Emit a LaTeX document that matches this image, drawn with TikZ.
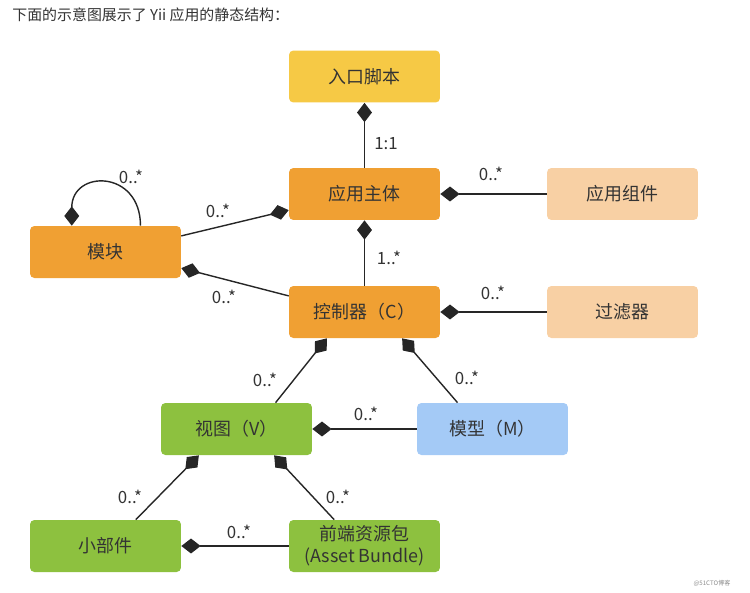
\documentclass[tikz,border=0pt]{standalone}
\usepackage{fontspec}
\setmainfont{Noto Sans CJK SC}
\usepackage{tikz}
\usetikzlibrary{arrows.meta}
\usepackage{xcolor}

\definecolor{entryyellow}{HTML}{F6C945}
\definecolor{apporange}{HTML}{F0A033}
\definecolor{partpeach}{HTML}{F8D0A4}
\definecolor{viewgreen}{HTML}{8DC13F}
\definecolor{modelblue}{HTML}{A4CAF6}
\definecolor{inktext}{HTML}{333333}

\tikzset{
  box/.style={rounded corners=2.5pt, minimum width=3.02cm, minimum height=1.04cm,
    text=inktext, font=\fontsize{10.2}{12.5}\selectfont, align=center, inner sep=0pt},
  lbl/.style={text=inktext, font=\fontsize{9.6}{11}\selectfont, inner sep=0pt},
  owns/.style={thick, draw=black!85, {Diamond[length=11pt,width=8.5pt]}-},
  ownedby/.style={thick, draw=black!85, -{Diamond[length=11pt,width=8.5pt]}}
}

\begin{document}
\begin{tikzpicture}[x=0.02cm, y=-0.02cm]
      % page frame, in pixels of the reference
      \useasboundingbox (0,0) rectangle (750,592);

      % caption line
      \node[anchor=west, text=inktext, font=\fontsize{8.5}{10}\selectfont, inner sep=0pt] (caption) at (12,15)
        {下面的示意图展示了 Yii 应用的静态结构：};

      % the boxes
      \node[box, fill=entryyellow] (entry) at (364.5,76.5) {入口脚本};
      \node[box, fill=apporange] (app) at (364.5,194) {应用主体};
      \node[box, fill=partpeach] (comp) at (622.5,194) {应用组件};
      \node[box, fill=apporange] (module) at (105.5,252) {模块};
      \node[box, fill=apporange] (ctrl) at (364.5,312) {控制器（C）};
      \node[box, fill=partpeach] (filter) at (622.5,312) {过滤器};
      \node[box, fill=viewgreen] (view) at (236.5,429) {视图（V）};
      \node[box, fill=modelblue] (model) at (492.5,429) {模型（M）};
      \node[box, fill=viewgreen] (widget) at (105.5,546) {小部件};
      \node[box, fill=viewgreen] (asset) at (364.5,546) {前端资源包\\(Asset Bundle)};

      % composition links, diamond on the owner side
      \draw[owns] (entry) -- (app);
      \draw[owns] (app) -- (comp);
      \draw[owns] (app.192) -- (module.12);
      \draw[owns] (app) -- (ctrl);
      \draw[owns] (module.348) -- (ctrl.168);
      \draw[ownedby] (module.37) to[out=90, in=90, looseness=2.1] (module.142);
      \draw[owns] (ctrl) -- (filter);
      \draw[owns] (ctrl.215) -- (view.34);
      \draw[owns] (ctrl.325) -- (model.143);
      \draw[owns] (view) -- (model);
      \draw[owns] (view.215) -- (widget.41);
      \draw[owns] (view.325) -- (asset.139);
      \draw[owns] (widget) -- (asset);

      % multiplicities
      \node[lbl] (m-entry) at (386,144) {1:1};
      \node[lbl] (m-comp) at (491,174) {0..*};
      \node[lbl] (m-self) at (131,177) {0..*};
      \node[lbl] (m-module) at (218,211) {0..*};
      \node[lbl] (m-ctrl) at (389,258) {1..*};
      \node[lbl] (m-back) at (224,297) {0..*};
      \node[lbl] (m-filter) at (493,293) {0..*};
      \node[lbl] (m-view) at (265,380) {0..*};
      \node[lbl] (m-model) at (467,378) {0..*};
      \node[lbl] (m-vm) at (366,414) {0..*};
      \node[lbl] (m-widget) at (130,497) {0..*};
      \node[lbl] (m-asset) at (338,497) {0..*};
      \node[lbl] (m-wa) at (239,532) {0..*};

      % corner mark
      \node[text=black!45, font=\fontsize{3.5}{4}\selectfont, inner sep=0pt] (mark) at (712,583) {@51CTO博客};
    \end{tikzpicture}
\end{document}
